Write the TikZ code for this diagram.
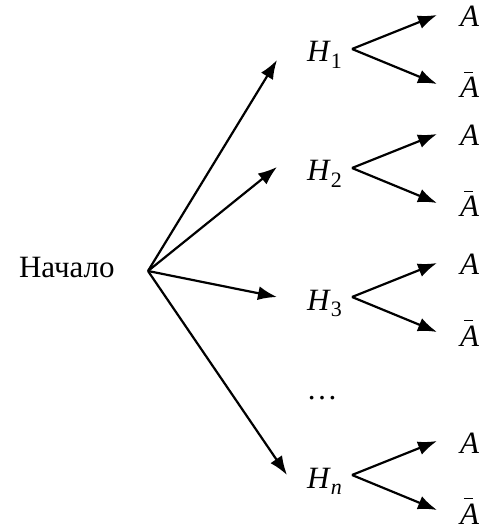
\documentclass[tikz,border=0pt]{standalone}
\usepackage{fontspec}
\setmainfont{Liberation Serif}
\usetikzlibrary{arrows.meta}
\newcommand\hyp[1]{\textit{H}\raisebox{-0.2em}{\fontsize{11}{12}\selectfont #1}}
\newcommand\abar{\rlap{\kern.12em\raisebox{.8em}{\rule{.3em}{.05em}}}\textit{A}}
\begin{document}
\begin{tikzpicture}[>={Latex[length=9.5pt,width=7pt]}, x=0.5pt, y=-0.5pt, line width=1.1pt,
    font=\fontsize{15.5}{18}\selectfont]
    \useasboundingbox (0,0) rectangle (484,528);

    % Start of the tree
    \node[anchor=base west, inner sep=0] (start) at (18,278) {Начало};
    \coordinate (root) at (148,271);

    % Hypotheses with their outcomes
    \foreach \i/\y/\ty/\tx/\s in {1/49/60/277/1, 2/168/167/277/2, 3/297/297/277/3, n/475/475/287/\textit{n}} {
        \node[anchor=base west, inner sep=0] (h\i) at (306,\y+13) {\hyp{\s}};
        \coordinate (t\i) at (\tx,\ty);
        \draw[->] (root) -- (t\i);
        % branches to A and not A
        \coordinate (j\i) at (352,\y);
        \coordinate (u\i) at (437,\y-34);
        \coordinate (d\i) at (437,\y+35);
        \node[anchor=base west, inner sep=0] (a\i) at (459,\y-22) {\textit{A}};
        \node[anchor=base west, inner sep=0] (b\i) at (459,\y+49) {\abar};
        \draw[->] (j\i) -- (u\i);
        \draw[->] (j\i) -- (d\i);
    }

    % Ellipsis between H3 and Hn
    \node[anchor=base, inner sep=0] (dots) at (322,399) {…};
\end{tikzpicture}
\end{document}
